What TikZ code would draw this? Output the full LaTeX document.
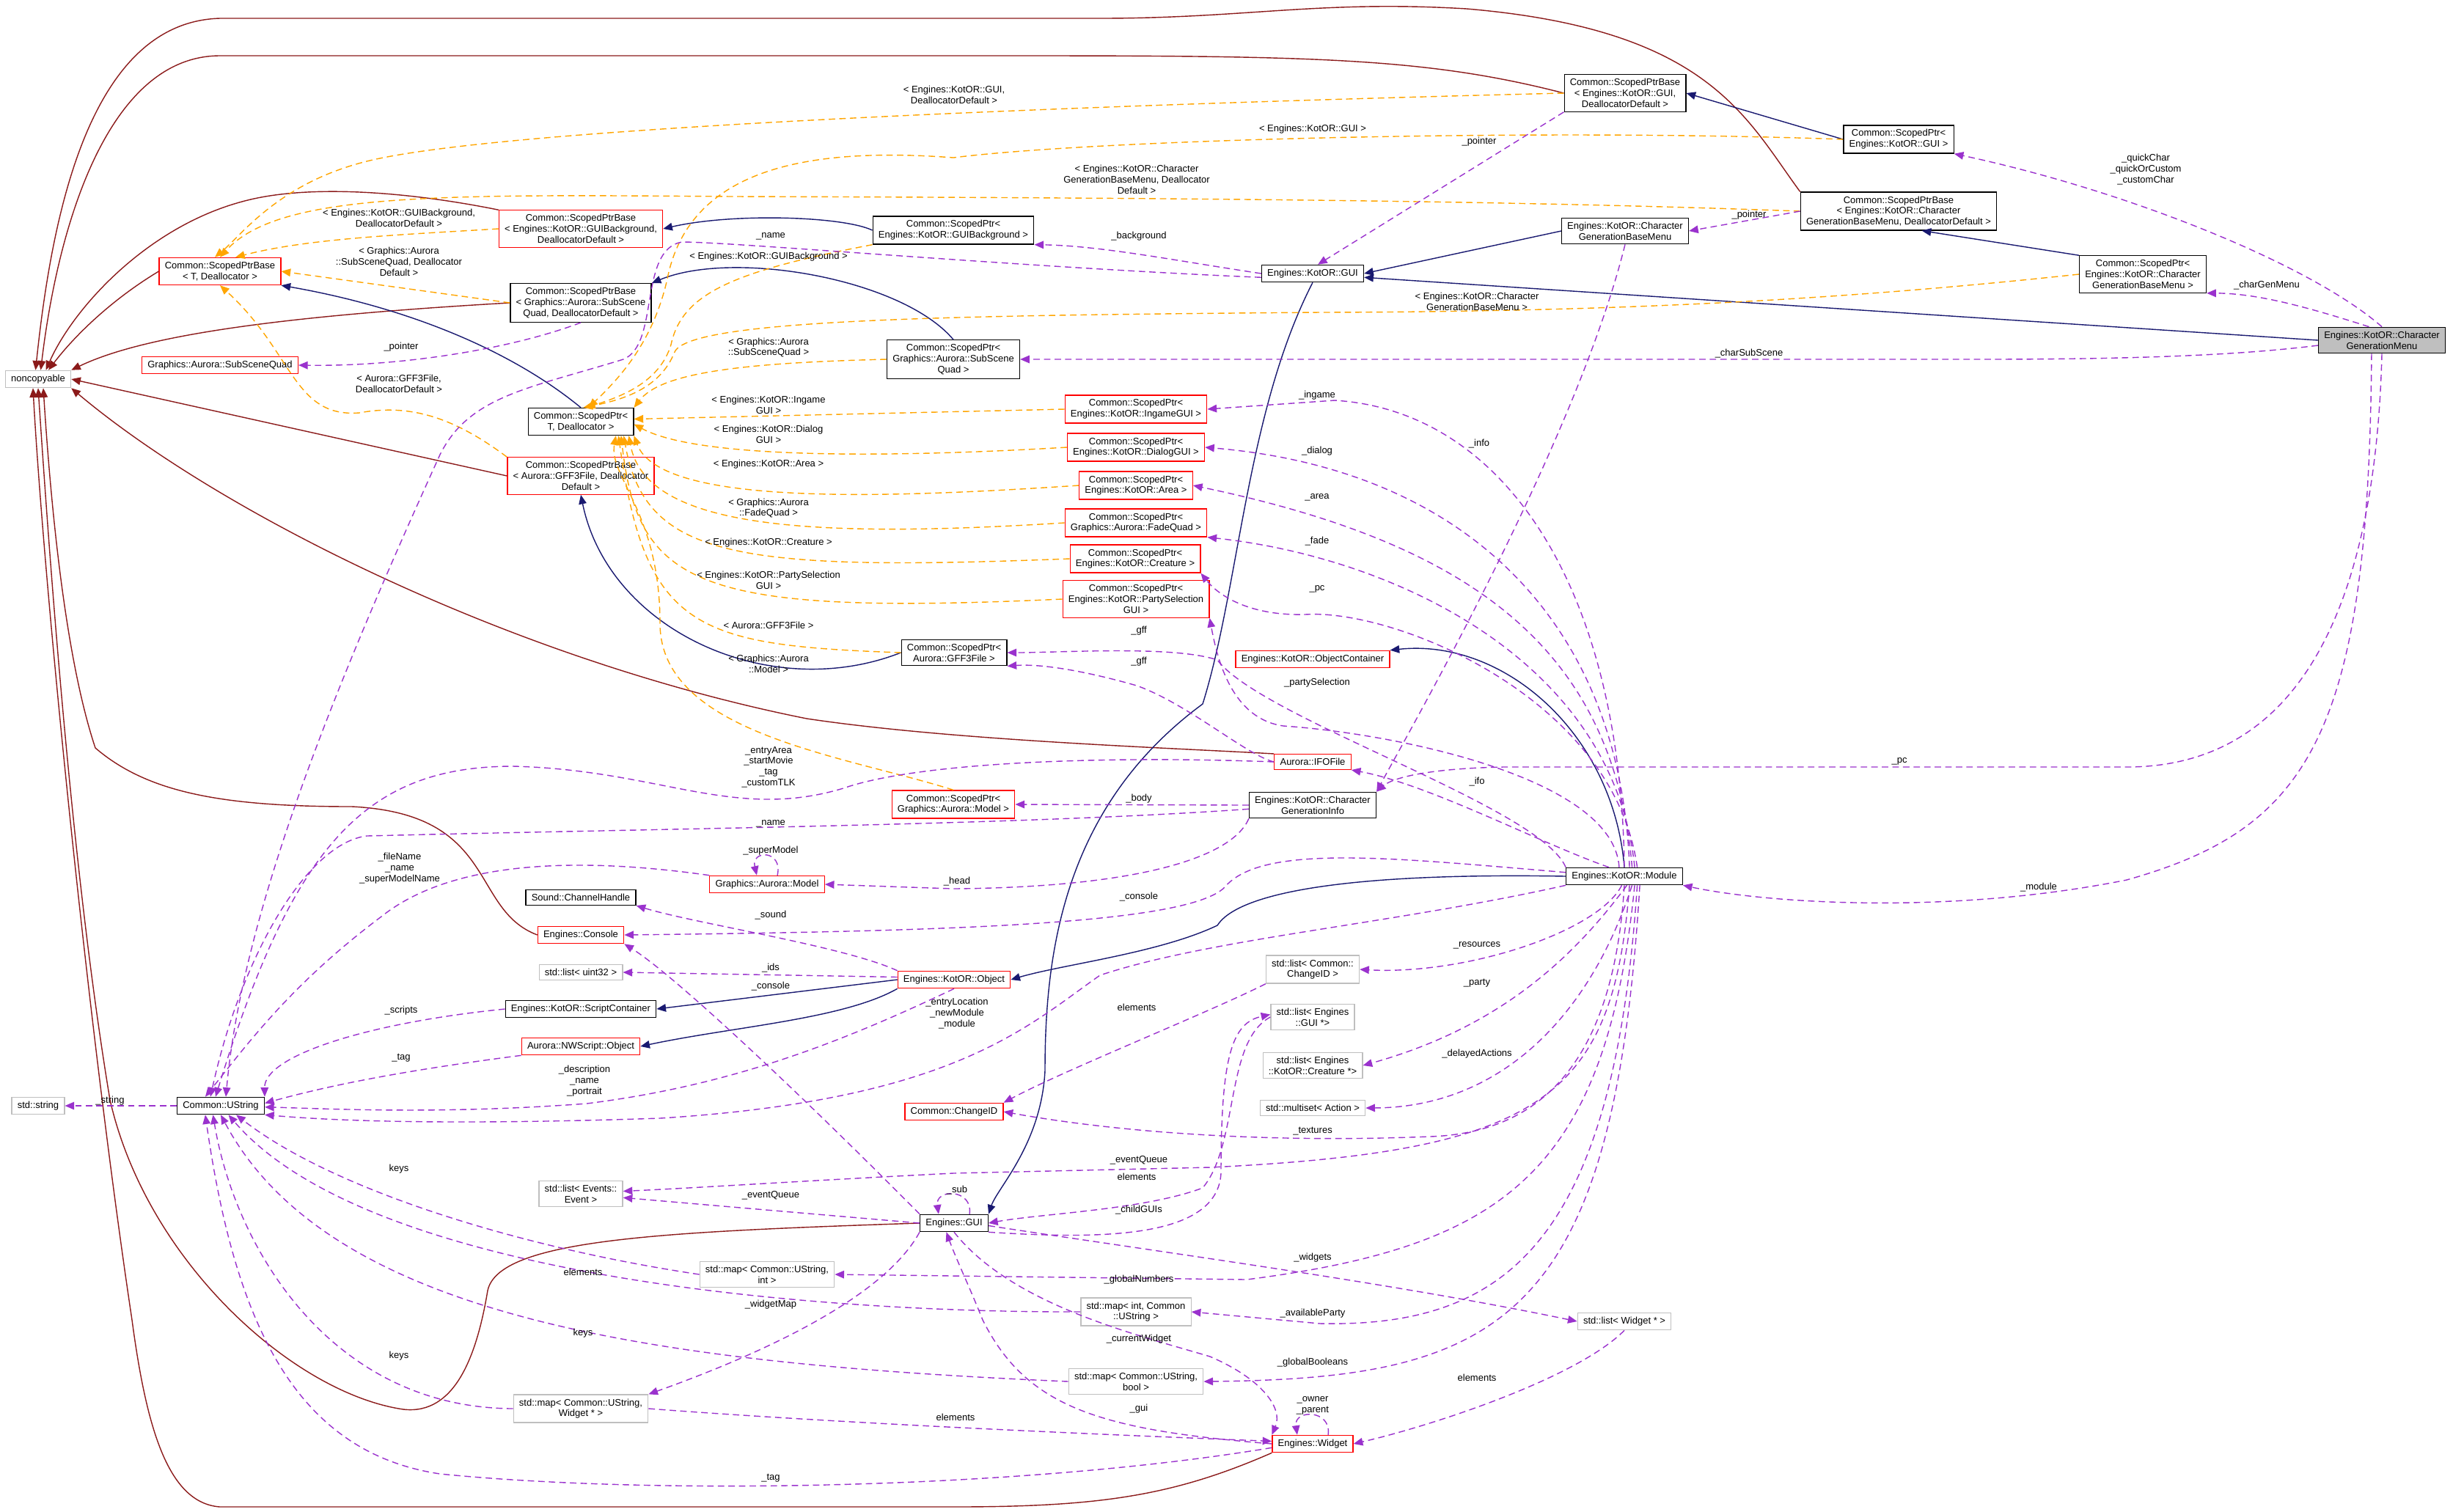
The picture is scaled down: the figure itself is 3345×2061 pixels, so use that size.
\documentclass[tikz,border=0pt]{standalone}
\usepackage{fontspec}
\setmainfont{Liberation Sans}
\usetikzlibrary{arrows.meta,calc}
\newcommand{\fs}{\fontsize{3.7}{4.2}\selectfont}
\definecolor{inhc}{RGB}{25,25,112}
\definecolor{usec}{RGB}{154,50,205}
\definecolor{tplc}{RGB}{255,165,0}
\definecolor{prvc}{RGB}{139,26,26}
\definecolor{boxred}{RGB}{255,0,0}
\definecolor{boxgrey}{RGB}{191,191,191}
\tikzset{
  box/.style={draw, rectangle, fill=white, inner xsep=2.2pt, inner ysep=1.6pt, align=center, font=\fs, line width=0.35pt},
  bk/.style={box, draw=black},
  rd/.style={box, draw=boxred},
  gy/.style={box, draw=boxgrey},
  lbl/.style={font=\fs, align=center, inner sep=0.5pt},
  tip/.style={-{Triangle[length=3.6pt,width=3pt]}},
  inh/.style={tip, draw=inhc, line width=0.4pt},
  prv/.style={tip, draw=prvc, line width=0.4pt},
  use/.style={tip, draw=usec, line width=0.4pt, dash pattern=on 2.5pt off 1.6pt},
  tpl/.style={tip, draw=tplc, line width=0.4pt, dash pattern=on 2.5pt off 1.6pt},
}
\begin{document}
\begin{tikzpicture}[x=0.1mm,y=-0.1mm]
\useasboundingbox (0,0) rectangle (3345,2061);
% nodes
\node[gy] (nonc) at (52,517) {noncopyable};
\node[rd] (spbT) at (300,370) {Common::ScopedPtrBase\\< T, Deallocator >};
\node[rd] (spbGB) at (792,312) {Common::ScopedPtrBase\\< Engines::KotOR::GUIBackground,\\DeallocatorDefault >};
\node[bk] (spGB) at (1300,314) {Common::ScopedPtr<\\Engines::KotOR::GUIBackground >};
\node[bk] (spbSSQ) at (792,413) {Common::ScopedPtrBase\\< Graphics::Aurora::SubScene\\Quad, DeallocatorDefault >};
\node[rd] (ssq) at (300,498) {Graphics::Aurora::SubSceneQuad};
\node[bk] (spT) at (792,575) {Common::ScopedPtr<\\T, Deallocator >};
\node[rd] (spbGFF) at (792,649) {Common::ScopedPtrBase\\< Aurora::GFF3File, Deallocator\\Default >};
\node[bk] (spSSQ) at (1300,490) {Common::ScopedPtr<\\Graphics::Aurora::SubScene\\Quad >};
\node[rd] (spIng) at (1549,558) {Common::ScopedPtr<\\Engines::KotOR::IngameGUI >};
\node[rd] (spDlg) at (1549,610) {Common::ScopedPtr<\\Engines::KotOR::DialogGUI >};
\node[rd] (spArea) at (1549,662) {Common::ScopedPtr<\\Engines::KotOR::Area >};
\node[rd] (spFade) at (1549,713) {Common::ScopedPtr<\\Graphics::Aurora::FadeQuad >};
\node[rd] (spCre) at (1548,762) {Common::ScopedPtr<\\Engines::KotOR::Creature >};
\node[rd] (spParty) at (1549,817) {Common::ScopedPtr<\\Engines::KotOR::PartySelection\\GUI >};
\node[bk] (spGFF) at (1301,890) {Common::ScopedPtr<\\Aurora::GFF3File >};
\node[bk] (spbGUI) at (2216,127) {Common::ScopedPtrBase\\< Engines::KotOR::GUI,\\DeallocatorDefault >};
\node[bk] (spGUI) at (2589,190) {Common::ScopedPtr<\\Engines::KotOR::GUI >};
\node[bk] (spbCG) at (2589,288) {Common::ScopedPtrBase\\< Engines::KotOR::Character\\GenerationBaseMenu, DeallocatorDefault >};
\node[bk] (cgbm) at (2216,315) {Engines::KotOR::Character\\GenerationBaseMenu};
\node[bk] (kgui) at (1790,373) {Engines::KotOR::GUI};
\node[bk] (spCG) at (2922,374) {Common::ScopedPtr<\\Engines::KotOR::Character\\GenerationBaseMenu >};
\node[bk, fill=boxgrey] (cgm) at (3248,464) {Engines::KotOR::Character\\GenerationMenu};
\node[rd] (objc) at (1790,899) {Engines::KotOR::ObjectContainer};
\node[rd] (ifo) at (1790,1039) {Aurora::IFOFile};
\node[bk] (cginfo) at (1790,1098) {Engines::KotOR::Character\\GenerationInfo};
\node[bk] (module) at (2215,1195) {Engines::KotOR::Module};
\node[gy] (lcid) at (1790,1322) {std::list< Common::\\ChangeID >};
\node[gy] (lgui) at (1790,1387) {std::list< Engines\\::GUI *>};
\node[gy] (lcre) at (1790,1453) {std::list< Engines\\::KotOR::Creature *>};
\node[gy] (mset) at (1790,1511) {std::multiset< Action >};
\node[gy] (lwid) at (2215,1802) {std::list< Widget * >};
\node[rd] (widget) at (1790,1969) {Engines::Widget};
\node[gy] (sstr) at (52,1508) {std::string};
\node[bk] (ustr) at (301,1508) {Common::UString};
\node[rd] (spModel) at (1300,1097) {Common::ScopedPtr<\\Graphics::Aurora::Model >};
\node[rd] (model) at (1046,1206) {Graphics::Aurora::Model};
\node[bk] (chan) at (792,1224) {Sound::ChannelHandle};
\node[rd] (console) at (792,1275) {Engines::Console};
\node[gy] (lu32) at (792,1326) {std::list< uint32 >};
\node[bk] (scont) at (792,1376) {Engines::KotOR::ScriptContainer};
\node[rd] (nwobj) at (792,1427) {Aurora::NWScript::Object};
\node[rd] (kobj) at (1301,1336) {Engines::KotOR::Object};
\node[rd] (changeid) at (1301,1516) {Common::ChangeID};
\node[gy] (levent) at (792,1628) {std::list< Events::\\Event >};
\node[bk] (egui) at (1301,1668) {Engines::GUI};
\node[gy] (mapsi) at (1046,1738) {std::map< Common::UString,\\int >};
\node[gy] (mapis) at (1549,1789) {std::map< int, Common\\::UString >};
\node[gy] (mapsb) at (1549,1884) {std::map< Common::UString,\\bool >};
\node[gy] (mapsw) at (792,1921) {std::map< Common::UString,\\Widget * >};

% private inheritance (noncopyable)
\draw[prv] (spbGUI.west) .. controls (1950,80) and (1800,76) .. (1400,76) -- (300,76) .. controls (150,76) and (80,300) .. ([xshift=1pt]nonc.north);
\draw[prv] (spbCG.north west) .. controls (2380,160) and (2330,40) .. (2000,12) .. controls (1800,0) and (1700,25) .. (1500,25) -- (300,25) .. controls (120,30) and (70,300) .. ([xshift=-1pt]nonc.north);
\draw[prv] (spbGB.north west) .. controls (560,262) and (420,250) .. (330,275) .. controls (200,310) and (100,420) .. ([xshift=3pt]nonc.north);
\draw[prv] (spbT.west) .. controls (150,410) and (100,460) .. ([xshift=4pt]nonc.north);
\draw[prv] (spbSSQ.west) .. controls (400,430) and (200,455) .. (nonc.north east);
\draw[prv] (spbGFF.west) -- (nonc.east);
\draw[prv] (ifo.north west) .. controls (1600,1020) and (1300,1010) .. (1100,980) .. controls (700,900) and (300,700) .. (nonc.south east);
\draw[prv] (console.west) .. controls (640,1240) and (680,1110) .. (480,1100) .. controls (300,1100) and (200,1080) .. (130,1020) .. controls (90,900) and (70,700) .. ([xshift=2pt]nonc.south);
\draw[prv] (egui.west) .. controls (900,1680) and (680,1690) .. (665,1760) .. controls (650,1850) and (620,1930) .. (550,1922) .. controls (400,1900) and (200,1720) .. (150,1500) .. controls (100,1200) and (70,800) .. ([xshift=0pt]nonc.south);
\draw[prv] (widget.south west) .. controls (1600,2040) and (1500,2055) .. (1300,2055) -- (300,2055) .. controls (230,2050) and (200,1950) .. (180,1800) .. controls (120,1400) and (60,800) .. ([xshift=-2pt]nonc.south);

% public inheritance
\draw[inh] (spGB.west) .. controls (1150,295) and (1000,290) .. (spbGB.east);
\draw[inh] (spSSQ.north) .. controls (1230,380) and (1000,340) .. (spbSSQ.north east);
\draw[inh] (spT.north) .. controls (700,480) and (560,420) .. (spbT.south east);
\draw[inh] (spGFF.west) .. controls (1050,960) and (830,860) .. (spbGFF.south);
\draw[inh] (spGUI.west) -- (spbGUI.east);
\draw[inh] (spCG.north west) -- ([xshift=9pt]spbCG.south);
\draw[inh] (cgbm.west) -- (kgui.east);
\draw[inh] (cgm.west) -- ([yshift=-1.5pt]kgui.east);
\draw[inh] (module.north) .. controls (2200,1000) and (2050,870) .. (objc.north east);
\draw[inh] (kgui.south) .. controls (1700,560) and (1690,800) .. (1640,960) .. controls (1450,1100) and (1425,1300) .. (1425,1460) .. controls (1420,1560) and (1360,1620) .. (egui.north east);
\draw[inh] (module.west) .. controls (1850,1190) and (1690,1215) .. (1660,1262) .. controls (1580,1300) and (1450,1315) .. (kobj.east);
\draw[inh] (kobj.west) -- (scont.east);
\draw[inh] (kobj.south west) .. controls (1150,1390) and (1000,1400) .. (nwobj.east);

% template instantiation
\draw[tpl] (spbGUI.west) .. controls (1600,140) and (700,170) .. (500,220) .. controls (380,250) and (330,320) .. ([xshift=-2pt]spbT.north)
  node[lbl] at (1301,129) {< Engines::KotOR::GUI,\\DeallocatorDefault >};
\draw[tpl] (spbCG.west) .. controls (2100,275) and (1700,270) .. (1000,268) .. controls (600,265) and (380,262) .. ([xshift=0pt]spbT.north)
  node[lbl] at (1550,245) {< Engines::KotOR::Character\\GenerationBaseMenu, Deallocator\\Default >};
\draw[tpl] (spbGB.west) .. controls (550,320) and (420,325) .. ([xshift=6pt]spbT.north)
  node[lbl] at (544,297) {< Engines::KotOR::GUIBackground,\\DeallocatorDefault >};
\draw[tpl] (spbSSQ.west) -- (spbT.east)
  node[lbl] at (544,357) {< Graphics::Aurora\\::SubSceneQuad, Deallocator\\Default >};
\draw[tpl] (spbGFF.north west) .. controls (620,570) and (560,550) .. (490,563) .. controls (400,570) and (400,480) .. (spbT.south)
  node[lbl] at (544,523) {< Aurora::GFF3File,\\DeallocatorDefault >};
\draw[tpl] (spGUI.west) .. controls (2100,175) and (1500,190) .. (1300,215) .. controls (1100,200) and (940,230) .. (910,380) .. controls (890,470) and (840,520) .. ([xshift=3pt]spT.north)
  node[lbl] at (1790,176) {< Engines::KotOR::GUI >};
\draw[tpl] (spGB.south west) .. controls (1000,370) and (930,400) .. (915,470) .. controls (900,520) and (850,540) .. ([xshift=2pt]spT.north)
  node[lbl] at (1048,350) {< Engines::KotOR::GUIBackground >};
\draw[tpl] (spCG.west) .. controls (2500,410) and (2200,425) .. (1800,426) .. controls (1300,430) and (940,435) .. (920,480) .. controls (900,530) and (850,545) .. ([xshift=1pt]spT.north)
  node[lbl] at (2014,411) {< Engines::KotOR::Character\\GenerationBaseMenu >};
\draw[tpl] (spSSQ.west) .. controls (1000,495) and (900,510) .. (spT.north east)
  node[lbl] at (1048,474) {< Graphics::Aurora\\::SubSceneQuad >};
\draw[tpl] (spIng.west) -- ([yshift=1pt]spT.east)
  node[lbl] at (1048,552) {< Engines::KotOR::Ingame\\GUI >};
\draw[tpl] (spDlg.west) .. controls (1200,625) and (950,625) .. ([yshift=-1pt]spT.east)
  node[lbl] at (1048,592) {< Engines::KotOR::Dialog\\GUI >};
\draw[tpl] (spArea.west) .. controls (1200,680) and (900,690) .. (spT.south east)
  node[lbl] at (1048,633) {< Engines::KotOR::Area >};
\draw[tpl] (spFade.west) .. controls (1100,735) and (880,720) .. ([xshift=-2pt]spT.south east)
  node[lbl] at (1048,693) {< Graphics::Aurora\\::FadeQuad >};
\draw[tpl] (spCre.west) .. controls (1000,780) and (880,760) .. ([xshift=-4pt]spT.south east)
  node[lbl] at (1048,740) {< Engines::KotOR::Creature >};
\draw[tpl] (spParty.west) .. controls (950,840) and (870,800) .. ([xshift=-5pt]spT.south east)
  node[lbl] at (1048,791) {< Engines::KotOR::PartySelection\\GUI >};
\draw[tpl] (spGFF.west) .. controls (950,880) and (880,860) .. ([xshift=-6pt]spT.south east)
  node[lbl] at (1048,853) {< Aurora::GFF3File >};
\draw[tpl] (spModel.north) .. controls (1150,1030) and (900,1000) .. (900,850) .. controls (900,700) and (830,650) .. ([xshift=-7pt]spT.south east)
  node[lbl] at (1048,905) {< Graphics::Aurora\\::Model >};

% usage
\draw[use] (spbGUI.south west) -- ([xshift=2pt]kgui.north) node[lbl] at (2017,193) {\_pointer};
\draw[use] (spbCG.west) -- (cgbm.east) node[lbl] at (2385,293) {\_pointer};
\draw[use] (spbSSQ.south) .. controls (700,475) and (550,500) .. (ssq.east) node[lbl] at (547,473) {\_pointer};
\draw[use] (cgm.north) .. controls (3150,360) and (2900,260) .. (spGUI.south east) node[lbl] at (2926,231) {\_quickChar\\\_quickOrCustom\\\_customChar};
\draw[use] ([xshift=-5pt]cgm.north) .. controls (3150,420) and (3080,400) .. (spCG.south east) node[lbl] at (3091,389) {\_charGenMenu};
\draw[use] ([yshift=-2pt]cgm.west) .. controls (3050,485) and (2900,490) .. (2700,490) -- (spSSQ.east) node[lbl] at (2385,482) {\_charSubScene};
\draw[use] (cgm.south) .. controls (3240,800) and (3150,1046) .. (2900,1046) -- (2050,1046) .. controls (1950,1048) and (1900,1060) .. (cginfo.north east) node[lbl] at (2590,1038) {\_pc};
\draw[use] ([xshift=-4pt]cgm.south) .. controls (3230,1000) and (3150,1130) .. (2900,1200) .. controls (2650,1250) and (2400,1230) .. (module.south east) node[lbl] at (2780,1210) {\_module};
\draw[use] (kgui.west) .. controls (1600,355) and (1500,335) .. (spGB.south east) node[lbl] at (1553,322) {\_background};
\draw[use] ([yshift=-1.5pt]kgui.west) .. controls (1400,365) and (1000,330) .. (930,330) .. controls (870,340) and (900,470) .. (850,490) .. controls (720,530) and (640,540) .. (600,620) .. controls (450,950) and (330,1250) .. ([xshift=2pt]ustr.north) node[lbl] at (1051,322) {\_name};
\draw[use] (module.north) .. controls (2210,800) and (2050,560) .. (1820,546) -- (spIng.east) node[lbl] at (1796,539) {\_ingame};
\draw[use] ([xshift=2pt]module.north) .. controls (2210,850) and (2000,640) .. (spDlg.east) node[lbl] at (1796,615) {\_dialog};
\draw[use] ([xshift=3pt]module.north) .. controls (2200,880) and (2000,740) .. (spArea.east) node[lbl] at (1796,678) {\_area};
\draw[use] ([xshift=4pt]module.north) .. controls (2200,900) and (1900,760) .. (spFade.south east) node[lbl] at (1796,738) {\_fade};
\draw[use] ([xshift=5pt]module.north) .. controls (2200,950) and (1900,830) .. (1780,838) .. controls (1700,840) and (1660,810) .. (spCre.south east) node[lbl] at (1796,803) {\_pc};
\draw[use] ([xshift=-2pt]module.north) .. controls (2200,1060) and (1900,1000) .. (1750,990) .. controls (1680,980) and (1660,900) .. (spParty.south east) node[lbl] at (1796,931) {\_partySelection};
\draw[use] (module.north west) .. controls (2100,1100) and (1720,980) .. (1660,900) .. controls (1600,880) and (1450,890) .. (spGFF.east) node[lbl] at (1553,860) {\_gff};
\draw[use] (ifo.west) .. controls (1700,1030) and (1620,960) .. (1550,935) .. controls (1480,915) and (1420,905) .. (spGFF.south east) node[lbl] at (1553,902) {\_gff};
\draw[use] (cgbm.south) .. controls (2150,600) and (1920,1000) .. (cginfo.north east) node[lbl] at (2017,605) {\_info};
\draw[use] ([xshift=-6pt]module.north) .. controls (2100,1150) and (1950,1070) .. (ifo.south east) node[lbl] at (2014,1066) {\_ifo};
\draw[use] (ifo.west) .. controls (1500,1030) and (1250,1040) .. (1150,1075) .. controls (1000,1120) and (900,1050) .. (700,1045) .. controls (500,1045) and (400,1150) .. ([xshift=-2pt]ustr.north) node[lbl] at (1048,1046) {\_entryArea\\\_startMovie\\\_tag\\\_customTLK};
\draw[use] (cginfo.west) -- (spModel.east) node[lbl] at (1553,1089) {\_body};
\draw[use] ([yshift=-1.5pt]cginfo.west) .. controls (1400,1125) and (900,1130) .. (500,1140) .. controls (420,1150) and (330,1300) .. ([xshift=-4pt]ustr.north) node[lbl] at (1051,1123) {\_name};
\draw[use] (cginfo.south west) .. controls (1680,1170) and (1550,1210) .. (1300,1212) -- (model.east) node[lbl] at (1305,1202) {\_head};
\draw[use] ([xshift=4pt]model.north) .. controls +(8,-35) and +(-8,-35) .. ([xshift=-4pt]model.north) node[lbl] at (1051,1160) {\_superModel};
\draw[use] (model.north west) .. controls (800,1170) and (620,1170) .. (520,1250) .. controls (400,1340) and (340,1420) .. ([xshift=-6pt]ustr.north) node[lbl] at (545,1184) {\_fileName\\\_name\\\_superModelName};
\draw[use] ([yshift=1.5pt]module.west) .. controls (1900,1170) and (1720,1150) .. (1670,1210) .. controls (1620,1260) and (1300,1270) .. (console.east) node[lbl] at (1553,1223) {\_console};
\draw[use] (kobj.north west) .. controls (1150,1290) and (950,1260) .. (chan.south east) node[lbl] at (1051,1248) {\_sound};
\draw[use] ([yshift=1pt]kobj.west) -- (lu32.east) node[lbl] at (1051,1320) {\_ids};
\draw[use] (egui.north west) .. controls (1100,1500) and (920,1330) .. (console.south east) node[lbl] at (1051,1345) {\_console};
\draw[use] (scont.west) .. controls (500,1395) and (360,1440) .. (ustr.north east) node[lbl] at (547,1378) {\_scripts};
\draw[use] (nwobj.south west) .. controls (550,1460) and (450,1480) .. ([yshift=1pt]ustr.east) node[lbl] at (547,1443) {\_tag};
\draw[use] (kobj.south) .. controls (1150,1420) and (1000,1480) .. (800,1505) .. controls (600,1520) and (450,1512) .. ([yshift=-0.5pt]ustr.east) node[lbl] at (797,1474) {\_description\\\_name\\\_portrait};
\draw[use] (module.south west) .. controls (1900,1260) and (1650,1280) .. (1500,1330) .. controls (1400,1400) and (1300,1500) .. (900,1525) .. controls (600,1535) and (450,1528) .. (ustr.south east) node[lbl] at (1305,1382) {\_entryLocation\\\_newModule\\\_module};
\draw[use] (lcid.south west) .. controls (1650,1380) and (1450,1460) .. (changeid.north east) node[lbl] at (1550,1374) {elements};
\draw[use] (module.south) .. controls (2200,1450) and (2100,1545) .. (1950,1550) .. controls (1700,1560) and (1500,1540) .. (changeid.east) node[lbl] at (1790,1543) {\_textures};
\draw[use] ([xshift=2pt]module.south) .. controls (2200,1500) and (2100,1570) .. (1650,1592) -- (1300,1600) .. controls (1100,1610) and (950,1620) .. ([yshift=1pt]levent.east) node[lbl] at (1553,1582) {\_eventQueue};
\draw[use] (egui.west) -- ([yshift=-1.5pt]levent.east) node[lbl] at (1051,1630) {\_eventQueue};
\draw[use] (lgui.west) .. controls (1670,1420) and (1690,1560) .. (1640,1620) .. controls (1560,1650) and (1420,1655) .. (egui.east) node[lbl] at (1550,1605) {elements};
\draw[use] (egui.south east) .. controls (1500,1690) and (1660,1690) .. (1665,1600) .. controls (1665,1440) and (1680,1395) .. ([yshift=1pt]lgui.west) node[lbl] at (1553,1650) {\_childGUIs};
\draw[use] ([xshift=6pt]egui.north) .. controls +(5,-35) and +(-5,-35) .. ([xshift=-6pt]egui.north) node[lbl] at (1305,1623) {\_sub};
\draw[use] ([xshift=1pt]module.south) .. controls (2150,1300) and (2050,1400) .. (lcre.east) node[lbl] at (2014,1341) {\_party};
\draw[use] ([xshift=-1pt]module.south) .. controls (2180,1270) and (2000,1330) .. (lcid.east) node[lbl] at (2014,1289) {\_resources};
\draw[use] ([xshift=3pt]module.south) .. controls (2170,1380) and (2050,1510) .. (mset.east) node[lbl] at (2014,1437) {\_delayedActions};
\draw[use] ([xshift=4pt]module.south) .. controls (2190,1600) and (2050,1700) .. (1700,1745) -- (mapsi.east) node[lbl] at (1553,1745) {\_globalNumbers};
\draw[use] ([xshift=5pt]module.south) .. controls (2200,1700) and (2050,1810) .. (1800,1805) -- (mapis.east) node[lbl] at (1790,1791) {\_availableParty};
\draw[use] ([xshift=6pt]module.south) .. controls (2200,1800) and (2050,1880) .. (mapsb.east) node[lbl] at (1790,1858) {\_globalBooleans};
\draw[use] (mapsi.west) .. controls (700,1700) and (450,1620) .. ([xshift=6pt]ustr.south) node[lbl] at (544,1594) {keys};
\draw[use] (mapis.west) .. controls (1100,1790) and (500,1740) .. ([xshift=3pt]ustr.south) node[lbl] at (795,1735) {elements};
\draw[use] (mapsb.west) .. controls (900,1860) and (450,1800) .. ([xshift=0pt]ustr.south) node[lbl] at (795,1818) {keys};
\draw[use] (mapsw.west) .. controls (450,1920) and (320,1700) .. ([xshift=-3pt]ustr.south) node[lbl] at (544,1849) {keys};
\draw[use] (egui.south west) .. controls (1200,1780) and (1000,1860) .. (mapsw.north east) node[lbl] at (1051,1779) {\_widgetMap};
\draw[use] ([yshift=-1pt]egui.east) .. controls (1600,1710) and (1900,1750) .. (lwid.west) node[lbl] at (1790,1715) {\_widgets};
\draw[use] (egui.south) .. controls (1380,1780) and (1550,1820) .. (1650,1850) .. controls (1720,1880) and (1750,1920) .. (widget.north west) node[lbl] at (1553,1826) {\_currentWidget};
\draw[use] (widget.west) .. controls (1500,1950) and (1400,1920) .. (1340,1800) .. controls (1320,1750) and (1305,1720) .. ([xshift=-3pt]egui.south) node[lbl] at (1553,1921) {\_gui};
\draw[use] (lwid.south) .. controls (2150,1880) and (1950,1945) .. (widget.east) node[lbl] at (2014,1879) {elements};
\draw[use] (mapsw.east) .. controls (1200,1945) and (1600,1960) .. ([yshift=1pt]widget.west) node[lbl] at (1303,1933) {elements};
\draw[use] ([xshift=6pt]widget.north) .. controls +(5,-35) and +(-5,-35) .. ([xshift=-6pt]widget.north) node[lbl] at (1790,1917) {\_owner\\\_parent};
\draw[use] ([yshift=-1.5pt]widget.west) .. controls (1400,2030) and (900,2040) .. (600,2010) .. controls (400,1980) and (320,1800) .. ([xshift=-6pt]ustr.south) node[lbl] at (1051,2016) {\_tag};
\draw[use] (ustr.west) -- (sstr.east) node[lbl] at (150,1501) {\_string};
\end{tikzpicture}
\end{document}
